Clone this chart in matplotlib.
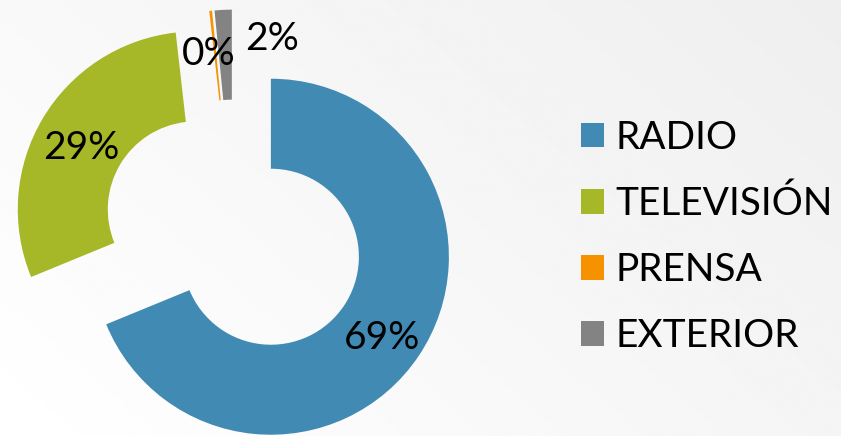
import matplotlib

matplotlib.use("Agg")
import matplotlib.pyplot as plt
import numpy as np

# shares by medium (percent)
MEDIOS = ["RADIO", "TELEVISIÓN", "PRENSA", "EXTERIOR"]
SHARES = [68.8, 29.4, 0.25, 1.55]
COLORS = ["#418AB3", "#A6B727", "#F69200", "#838383"]

FONT = ["Lato", "DejaVu Sans"]
W, H = 841, 436

fig = plt.figure(figsize=(W / 100, H / 100), dpi=100)
ax = fig.add_axes([0, 0, 1, 1])

# soft grey background, lighter at top-left
yy, xx = np.mgrid[0:1:200j, 0:1:400j]
shade = 1.0 - 0.065 * np.clip((xx * 0.75 + (1 - yy) * 0.45) / 1.2, 0, 1)
ax.imshow(shade, cmap="gray", vmin=0, vmax=1, extent=(0, W, 0, H),
          origin="upper", aspect="auto", zorder=0)

wedges, texts, autotexts = ax.pie(
    SHARES, colors=COLORS, center=(234, 204), radius=178,
    explode=[44.4] * len(SHARES), startangle=90, counterclock=False,
    wedgeprops=dict(width=90, linewidth=0),
    autopct=lambda p: f"{p:.0f}%", pctdistance=0.75,
    textprops=dict(fontsize=28, family=FONT, color="black"),
)

# nudge labels; the two thin slices get moved off the ring like the original
for t, (dx, dy) in zip(autotexts, [(0, -7), (0, -7), (-7, 1), (47, 15)]):
    x, y = t.get_position()
    t.set_position((x + dx, y + dy))

ax.legend(wedges, MEDIOS, loc="center left", bbox_to_anchor=(581, 199),
          bbox_transform=ax.transData, frameon=False, borderpad=0,
          borderaxespad=0, handlelength=0.59, handleheight=0.59,
          handletextpad=0.3, labelspacing=0.77,
          prop=dict(family=FONT, size=28))

ax.set_xlim(0, W)
ax.set_ylim(0, H)
ax.set_aspect("equal")
ax.set_axis_off()

fig.savefig("out.png", dpi=100)
